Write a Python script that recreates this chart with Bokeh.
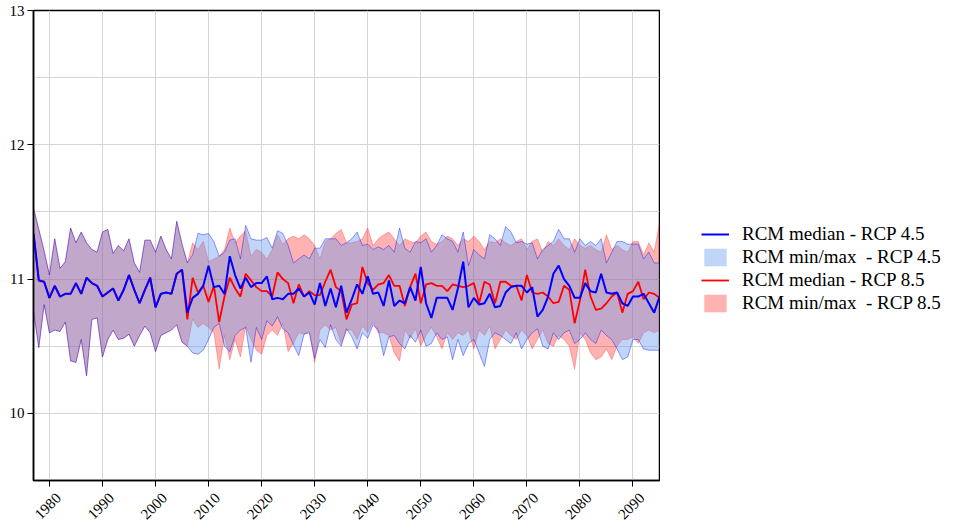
import math
from bokeh.plotting import figure
from bokeh.layouts import row
from bokeh.models import (Range1d, FixedTicker, Legend, LegendItem, LinearAxis,
                          CustomLabelingPolicy)
from bokeh.embed import file_html
from bokeh.resources import INLINE

# ---- data -------------------------------------------------------------
years_hist = list(range(1977, 2006))
years_scen = list(range(2006, 2096))

hist_median = [11.34, 10.99, 10.98, 10.86, 10.95, 10.87, 10.89, 10.89, 10.97, 10.89,
               11.01, 10.97, 10.95, 10.87, 10.90, 10.93, 10.84, 10.92, 11.03, 10.92,
               10.82, 10.92, 11.01, 10.79, 10.89, 10.90, 10.89, 11.04, 11.07]
hist_max = [11.53, 11.37, 11.21, 11.03, 11.30, 11.08, 11.13, 11.38, 11.27, 11.35,
            11.27, 11.22, 11.20, 11.35, 11.37, 11.19, 11.25, 11.21, 11.30, 11.12,
            11.05, 11.29, 11.29, 11.20, 11.32, 11.22, 11.15, 11.43, 11.26]
hist_min = [10.76, 10.49, 10.81, 10.60, 10.62, 10.61, 10.68, 10.39, 10.38, 10.55,
            10.28, 10.70, 10.71, 10.42, 10.55, 10.62, 10.55, 10.56, 10.59, 10.50,
            10.58, 10.65, 10.60, 10.46, 10.58, 10.60, 10.62, 10.66, 10.53]

rcp45_median = [10.75, 10.86, 10.89, 10.95, 11.10, 10.94, 10.95, 10.89, 11.17, 11.03, 10.93,
                11.01, 10.94, 10.97, 10.97, 11.02, 10.85, 10.86, 10.85, 10.89, 10.89, 10.93,
                10.87, 10.90, 10.81, 10.97, 10.80, 10.93, 10.79, 10.95, 10.75, 10.85,
                10.96, 10.89, 11.02, 10.89, 10.90, 10.80, 10.99, 10.80, 10.84, 10.82,
                10.94, 10.84, 11.09, 10.82, 10.71, 10.86, 10.86, 10.86, 10.77,
                10.93, 11.13, 10.79, 10.86, 10.81, 10.82, 10.89, 10.79, 10.80, 10.90,
                10.94, 10.95, 10.95, 10.90, 10.94, 10.72, 10.77, 10.87, 11.04, 11.10,
                11.00, 10.95, 10.86, 10.86, 10.97, 10.91, 10.90, 11.04, 10.90, 10.89,
                10.90, 10.82, 10.80, 10.87, 10.87, 10.89, 10.82, 10.75, 10.87]
rcp45_max = [11.12, 11.18, 11.34, 11.33, 11.34, 11.28, 11.17, 11.20, 11.29, 11.30, 11.15,
             11.40, 11.30, 11.29, 11.29, 11.31, 11.23, 11.36, 11.34, 11.25, 11.12, 11.15,
             11.18, 11.15, 11.23, 11.23, 11.30, 11.30, 11.30, 11.25, 11.27, 11.30,
             11.35, 11.25, 11.26, 11.22, 11.24, 11.22, 11.25, 11.20, 11.38, 11.23,
             11.20, 11.28, 11.27, 11.30, 11.20, 11.25, 11.33, 11.30, 11.28,
             11.20, 11.35, 11.10, 11.22, 11.18, 11.15, 11.33, 11.30, 11.25, 11.39,
             11.35, 11.27, 11.28, 11.26, 11.27, 11.15, 11.22, 11.25, 11.28, 11.37,
             11.30, 11.30, 11.20, 11.30, 11.25, 11.28, 11.25, 11.30, 11.12, 11.20,
             11.28, 11.28, 11.26, 11.26, 11.26, 11.15, 11.20, 11.12, 11.12]
rcp45_min = [10.50, 10.45, 10.44, 10.47, 10.55, 10.64, 10.67, 10.50, 10.46, 10.58, 10.62,
             10.64, 10.38, 10.64, 10.55, 10.69, 10.65, 10.72, 10.63, 10.60, 10.51, 10.43,
             10.59, 10.60, 10.41, 10.55, 10.49, 10.66, 10.55, 10.50, 10.63, 10.57,
             10.48, 10.60, 10.56, 10.66, 10.62, 10.43, 10.57, 10.58, 10.52, 10.48,
             10.58, 10.53, 10.62, 10.50, 10.52, 10.60, 10.55, 10.57, 10.40,
             10.55, 10.43, 10.52, 10.55, 10.45, 10.35, 10.55, 10.60, 10.58, 10.55,
             10.52, 10.60, 10.48, 10.55, 10.60, 10.63, 10.50, 10.48, 10.60, 10.55,
             10.60, 10.62, 10.52, 10.55, 10.60, 10.55, 10.52, 10.62, 10.58, 10.55,
             10.48, 10.40, 10.42, 10.55, 10.55, 10.48, 10.47, 10.47, 10.47]

rcp85_median = [10.70, 11.01, 10.90, 10.95, 10.83, 10.95, 10.68, 10.87, 11.01, 10.93, 10.87,
                11.04, 10.99, 10.94, 10.91, 10.91, 10.87, 11.05, 11.00, 10.97, 10.82, 10.96,
                10.87, 10.91, 10.88, 10.88, 10.98, 11.07, 10.94, 10.91, 10.70, 10.81,
                10.82, 11.09, 10.97, 10.92, 10.96, 10.97, 11.03, 10.95, 10.95, 10.80,
                10.94, 11.04, 10.82, 10.96, 10.97, 10.95, 10.95, 10.91, 10.96,
                10.95, 10.94, 10.95, 10.97, 10.82, 10.98, 10.96, 10.82, 10.98, 10.98,
                10.95, 10.95, 10.84, 11.03, 10.90, 10.89, 10.90, 10.87, 10.82, 10.83,
                10.95, 10.92, 10.67, 10.84, 11.07, 10.87, 10.77, 10.78, 10.82, 10.87,
                10.90, 10.75, 10.89, 10.91, 10.98, 10.85, 10.90, 10.89, 10.86]
rcp85_max = [11.12, 11.27, 11.22, 11.28, 11.13, 11.15, 11.17, 11.22, 11.38, 11.27, 11.32,
             11.36, 11.17, 11.22, 11.20, 11.15, 11.22, 11.33, 11.26, 11.30, 11.32, 11.30,
             11.33, 11.30, 11.25, 11.15, 11.28, 11.30, 11.34, 11.37, 11.27, 11.27,
             11.28, 11.30, 11.38, 11.25, 11.30, 11.33, 11.35, 11.30, 11.25, 11.30,
             11.28, 11.27, 11.32, 11.35, 11.28, 11.26, 11.28, 11.32, 11.30,
             11.25, 11.30, 11.28, 11.32, 11.28, 11.22, 11.28, 11.27, 11.30, 11.27,
             11.25, 11.28, 11.30, 11.22, 11.28, 11.30, 11.20, 11.28, 11.25, 11.30,
             11.25, 11.22, 11.30, 11.25, 11.23, 11.25, 11.22, 11.20, 11.33, 11.22,
             11.25, 11.22, 11.20, 11.28, 11.28, 11.18, 11.27, 11.20, 11.42]
rcp85_min = [10.50, 10.70, 10.64, 10.67, 10.64, 10.60, 10.33, 10.58, 10.40, 10.55, 10.42,
             10.65, 10.55, 10.47, 10.44, 10.58, 10.62, 10.58, 10.67, 10.46, 10.52, 10.60,
             10.59, 10.61, 10.38, 10.62, 10.66, 10.62, 10.64, 10.52, 10.62, 10.62,
             10.55, 10.65, 10.60, 10.68, 10.60, 10.60, 10.58, 10.45, 10.39, 10.62,
             10.56, 10.63, 10.50, 10.58, 10.64, 10.57, 10.48, 10.60, 10.55,
             10.60, 10.58, 10.62, 10.48, 10.62, 10.58, 10.65, 10.48, 10.55, 10.62,
             10.58, 10.55, 10.62, 10.58, 10.48, 10.55, 10.62, 10.52, 10.50, 10.58,
             10.55, 10.50, 10.33, 10.60, 10.55, 10.45, 10.40, 10.42, 10.48, 10.40,
             10.50, 10.55, 10.55, 10.57, 10.52, 10.60, 10.62, 10.60, 10.62]

y_ticks = [10, 11, 12, 13]
x_ticks = list(range(1980, 2100, 10))

# each scenario continues the shared historical run
years = years_hist + years_scen
med45, max45, min45 = hist_median + rcp45_median, hist_max + rcp45_max, hist_min + rcp45_min
med85, max85, min85 = hist_median + rcp85_median, hist_max + rcp85_max, hist_min + rcp85_min

SERIF = "Liberation Serif"
BLUE_FILL, BLUE_ALPHA = "#6495ED", 0.4
RED_FILL, RED_ALPHA = "red", 0.3

# ---- main chart -------------------------------------------------------
X0, X1 = 1977, 2095
p = figure(frame_width=626, frame_height=470, output_backend="svg", toolbar_location=None,
           x_range=Range1d(X0, X1), y_range=Range1d(9.5, 13),
           min_border_left=33, min_border_right=1, min_border_top=10,
           min_border_bottom=0)
p.outline_line_color = "black"
p.outline_line_width = 1.5
p.background_fill_color = "white"
p.border_fill_color = "white"

p.varea(x=years, y1=min85, y2=max85, fill_color=RED_FILL, fill_alpha=RED_ALPHA)
p.line(years, max85, line_color="red", line_alpha=0.35, line_width=0.8)
p.line(years, min85, line_color="red", line_alpha=0.35, line_width=0.8)
p.varea(x=years, y1=min45, y2=max45, fill_color=BLUE_FILL, fill_alpha=BLUE_ALPHA)
p.line(years, max45, line_color="blue", line_alpha=0.5, line_width=0.8)
p.line(years, min45, line_color="blue", line_alpha=0.5, line_width=0.8)
p.line(years, med85, line_color="red", line_width=1.8)
p.line(years, med45, line_color="blue", line_width=2)

for ax in (p.xaxis[0], p.yaxis[0]):
    ax.axis_line_color = "black"
    ax.axis_line_width = 1.5
    ax.major_tick_line_color = "black"
    ax.major_tick_in = 0
    ax.major_tick_out = 6
    ax.minor_tick_line_color = None
    ax.major_label_text_font = SERIF
    ax.major_label_text_font_size = "15px"
    ax.major_label_text_color = "black"
    ax.major_label_standoff = 3
    ax.axis_label_standoff = 0
p.yaxis.ticker = FixedTicker(ticks=y_ticks)
# the main x axis only draws tick marks; its labels are suppressed
p.xaxis.ticker = FixedTicker(ticks=x_ticks)
p.xaxis.major_label_standoff = 0
p.xaxis.major_label_text_font_size = "1px"
p.xaxis.major_label_policy = CustomLabelingPolicy(
    code="const all = [...indices]; for (const i of all) indices.unset(i);")

# rotated year labels on a second axis, offset so each is centred under its tick
shift = 1.7
p.extra_x_ranges = {"labels": Range1d(X0 - shift, X1 - shift)}
lab_axis = LinearAxis(x_range_name="labels", ticker=FixedTicker(ticks=x_ticks))
lab_axis.axis_line_color = None
lab_axis.major_tick_line_color = None
lab_axis.major_tick_in = 0
lab_axis.major_tick_out = 0
lab_axis.minor_tick_line_color = None
lab_axis.minor_tick_out = 0
lab_axis.axis_label_standoff = 0
lab_axis.major_label_orientation = math.pi / 4
lab_axis.major_label_text_font = SERIF
lab_axis.major_label_text_font_size = "15px"
lab_axis.major_label_text_color = "black"
lab_axis.major_label_standoff = 5
p.add_layout(lab_axis, "below")

p.xgrid.ticker = FixedTicker(ticks=x_ticks)
p.ygrid.ticker = FixedTicker(ticks=[9.5 + 0.5 * i for i in range(8)])
for g in (p.xgrid[0], p.ygrid[0]):
    g.grid_line_color = "#d4d4d4"
    g.grid_line_width = 1

# ---- legend panel (frame is aligned with the chart frame by the row) ---
q = figure(width=294, height=522, output_backend="svg", toolbar_location=None,
           x_range=Range1d(0, 1), y_range=Range1d(0, 1),
           x_axis_location=None, y_axis_location=None, min_border=0)
q.outline_line_color = None
q.grid.visible = False
k45 = q.line([-5, -4], [-5, -5], line_color="blue", line_width=2)
b45 = q.varea(x=[-5, -4], y1=[-6, -6], y2=[-5, -5], fill_color=BLUE_FILL, fill_alpha=BLUE_ALPHA)
k85 = q.line([-5, -4], [-5, -5], line_color="red", line_width=1.8)
b85 = q.varea(x=[-5, -4], y1=[-6, -6], y2=[-5, -5], fill_color=RED_FILL, fill_alpha=RED_ALPHA)

legend = Legend(items=[
    LegendItem(label="RCM median - RCP 4.5", renderers=[k45]),
    LegendItem(label="RCM min/max\u00a0 - RCP 4.5", renderers=[b45]),
    LegendItem(label="RCM median - RCP 8.5", renderers=[k85]),
    LegendItem(label="RCM min/max\u00a0 - RCP 8.5", renderers=[b85]),
], location=(41, 162))
legend.border_line_color = None
legend.background_fill_alpha = 0
legend.padding = 0
legend.margin = 0
legend.spacing = 0
legend.glyph_width = 28
legend.glyph_height = 22
legend.label_height = 23
legend.label_standoff = 13
legend.label_text_font = SERIF
legend.label_text_font_size = "19px"
legend.label_text_color = "black"
q.add_layout(legend)

open("out.html", "w").write(file_html(row(p, q), INLINE))
